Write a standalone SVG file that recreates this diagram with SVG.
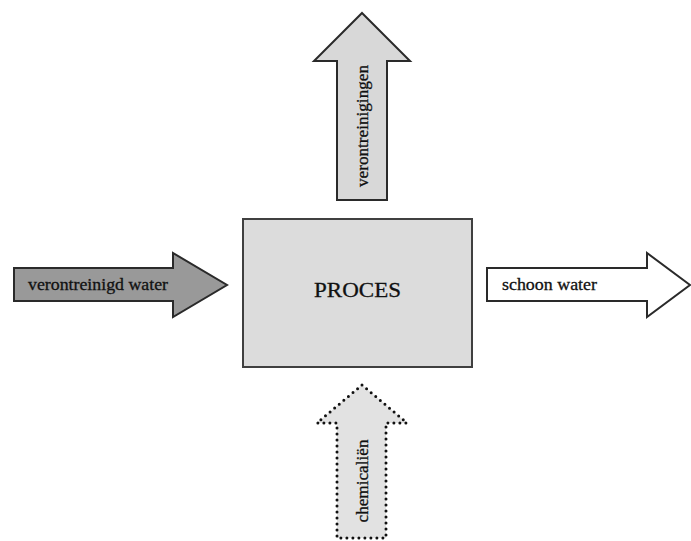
<svg xmlns="http://www.w3.org/2000/svg" width="691" height="541" viewBox="0 0 691 541">
<style>
  .lbl { font-family: "Liberation Serif", "Times New Roman", serif; font-size: 17px; fill: #111; stroke: #111; stroke-width: 0.3; }
  .solid { stroke: #2a2a2a; stroke-width: 2; stroke-linejoin: miter; }
  .dotted { stroke: #111; stroke-width: 3; stroke-dasharray: 0 6; stroke-linecap: round; fill: #e2e2e2; }
</style>
<rect x="0" y="0" width="691" height="541" fill="#ffffff"/>
<g id="proces">
  <rect x="243" y="219" width="229" height="148" fill="#dcdcdc" stroke="#404040" stroke-width="2"/>
  <text x="357.5" y="297" text-anchor="middle" class="lbl" style="font-size:22px" textLength="87" lengthAdjust="spacingAndGlyphs">PROCES</text>
</g>
<g id="connectors">
  <g id="verontreinigingen">
    <polygon class="solid" fill="#d8d8d8" points="362,13 410,61 387,61 387,200 337,200 337,61 314,61"/>
    <text class="lbl" transform="translate(368,126) rotate(-90)" text-anchor="middle" textLength="122" lengthAdjust="spacingAndGlyphs">verontreinigingen</text>
  </g>
  <g id="verontreinigd-water">
    <polygon class="solid" fill="#999999" points="14,268 173,268 173,253 227,285 173,317 173,301 14,301"/>
    <text class="lbl" x="28" y="290" textLength="140" lengthAdjust="spacingAndGlyphs">verontreinigd water</text>
  </g>
  <g id="schoon-water">
    <polygon class="solid" fill="#ffffff" stroke="#555" points="487,268 647,268 647,253 690,285 647,317 647,301 487,301"/>
    <text class="lbl" x="502" y="290" textLength="95" lengthAdjust="spacingAndGlyphs">schoon water</text>
  </g>
  <g id="chemicalien">
    <polygon class="dotted" points="362,385 407,423 386,423 386,538 337,538 337,423 317,423"/>
    <text class="lbl" transform="translate(368,481) rotate(-90)" text-anchor="middle" textLength="83" lengthAdjust="spacingAndGlyphs">chemicaliën</text>
  </g>
</g>
</svg>
